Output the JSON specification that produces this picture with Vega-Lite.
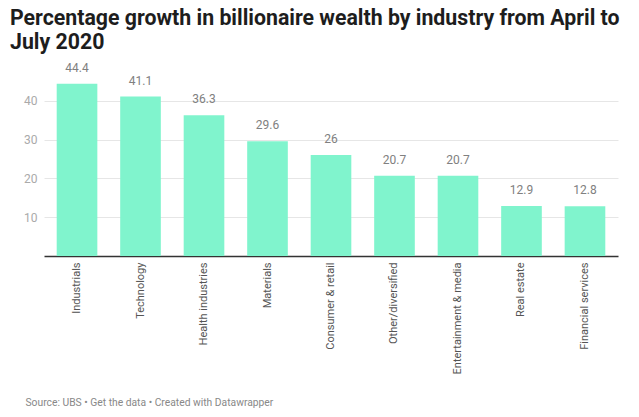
{
  "$schema": "https://vega.github.io/schema/vega-lite/v6.json",
  "autosize": {"type": "none"},
  "width": 574,
  "height": 194,
  "padding": {"left": 44, "top": 62, "right": 21, "bottom": 161},
  "background": "white",
  "title": {
    "text": ["Percentage growth in billionaire wealth by industry from April to", "July 2020"],
    "anchor": "start",
    "frame": "group",
    "dx": -34,
    "offset": 8,
    "font": "Roboto",
    "fontSize": 21.3,
    "fontWeight": "bold",
    "color": "#1d1d1d",
    "lineHeight": 24
  },
  "data": {
    "values": [
      {"industry": "Industrials", "growth": 44.4},
      {"industry": "Technology", "growth": 41.1},
      {"industry": "Health industries", "growth": 36.3},
      {"industry": "Materials", "growth": 29.6},
      {"industry": "Consumer & retail", "growth": 26},
      {"industry": "Other/diversified", "growth": 20.7},
      {"industry": "Entertainment & media", "growth": 20.7},
      {"industry": "Real estate", "growth": 12.9},
      {"industry": "Financial services", "growth": 12.8}
    ]
  },
  "encoding": {
    "x": {
      "field": "industry",
      "type": "nominal",
      "sort": null,
      "scale": {"paddingInner": 0.36, "paddingOuter": 0.2},
      "axis": {
        "title": "Source: UBS • Get the data • Created with Datawrapper",
        "titleFont": "Roboto",
        "titleFontSize": 10.3,
        "titleFontWeight": "normal",
        "titleColor": "#888888",
        "titleAnchor": "start",
        "titleAlign": "left",
        "titleX": -19,
        "titleY": 141,
        "labelAngle": -90,
        "labelFont": "Roboto",
        "labelFontSize": 11,
        "labelColor": "#555555",
        "labelPadding": 6,
        "ticks": false,
        "domainColor": "#333333",
        "domainWidth": 1.5
      }
    },
    "y": {
      "field": "growth",
      "type": "quantitative",
      "scale": {"domain": [0, 50], "nice": false},
      "axis": {
        "title": null,
        "values": [10, 20, 30, 40],
        "domain": false,
        "ticks": false,
        "labelFont": "Roboto",
        "labelFontSize": 12,
        "labelColor": "#aaaaaa",
        "labelPadding": 7,
        "gridColor": "#e6e6e6"
      }
    }
  },
  "layer": [
    {"mark": {"type": "bar", "color": "#80f4cd"}},
    {
      "mark": {"type": "text", "baseline": "bottom", "dy": -9, "font": "Roboto", "fontSize": 12, "color": "#808080"},
      "encoding": {"text": {"field": "growth", "type": "quantitative"}}
    }
  ],
  "config": {"view": {"stroke": null}}
}
